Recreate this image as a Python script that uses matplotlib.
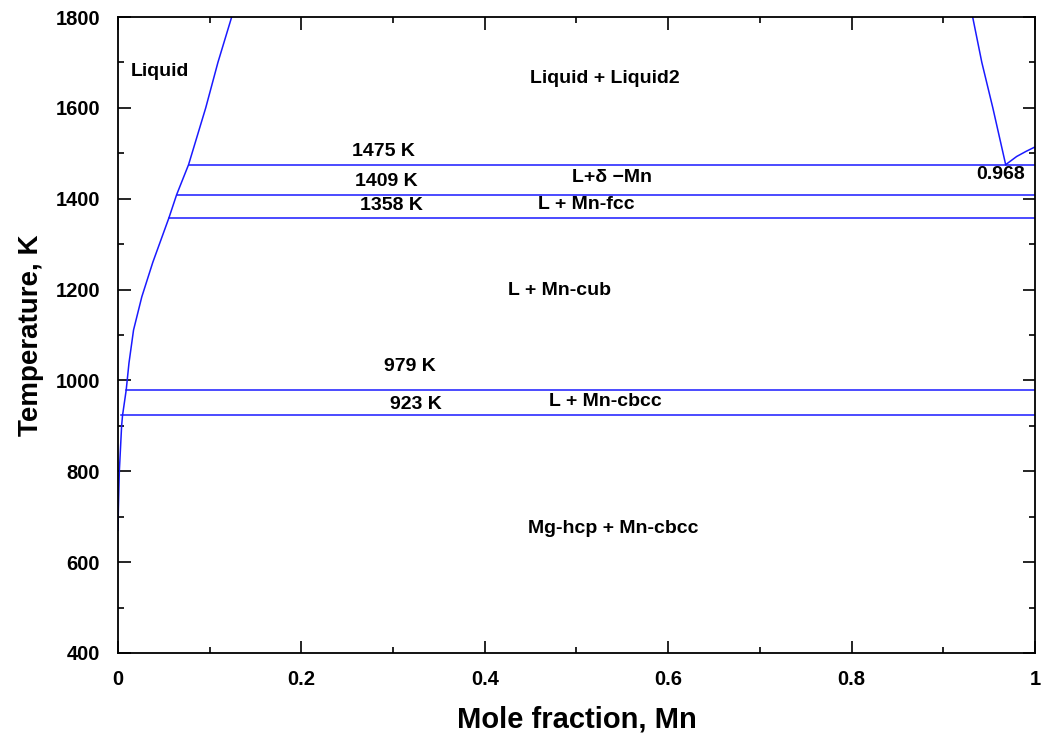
import matplotlib.pyplot as plt
from matplotlib.ticker import MultipleLocator

# liquidus, Mg-rich side (x, T)
liq_x = [0.0, 0.0005, 0.0015, 0.004, 0.005, 0.009, 0.012, 0.017, 0.026, 0.038, 0.0556, 0.064, 0.077, 0.0957, 0.109, 0.124]
liq_T = [670, 720, 800, 900, 923, 979, 1038, 1111, 1184, 1260, 1358, 1409, 1475, 1600, 1700, 1800]

# miscibility gap edge, Mn-rich side
gap_x = [0.932, 0.942, 0.954, 0.968]
gap_T = [1800, 1700, 1600, 1475]

# liquidus of delta-Mn
dmn_x = [0.968, 0.98, 0.99, 1.0]
dmn_T = [1475, 1493, 1504, 1514]

# invariant lines: temperature, left end
inv_T = [1475, 1409, 1358, 979, 923]
inv_x0 = [0.077, 0.064, 0.0556, 0.009, 0.003]

labels = [
    ("Liquid", 0.046, 1679),
    ("Liquid + Liquid2", 0.531, 1664),
    ("1475 K", 0.29, 1505),
    ("1409 K", 0.293, 1439),
    ("L+\u03b4 \u2212Mn", 0.539, 1446),
    ("1358 K", 0.298, 1384),
    ("L + Mn-fcc", 0.511, 1388),
    ("0.968", 0.962, 1454),
    ("L + Mn-cub", 0.481, 1197),
    ("979 K", 0.318, 1030),
    ("923 K", 0.325, 946),
    ("L + Mn-cbcc", 0.532, 953),
    ("Mg-hcp + Mn-cbcc", 0.540, 675),
]

plt.rcParams['font.family'] = ['Liberation Sans', 'DejaVu Sans']

fig = plt.figure(figsize=(10.42, 7.34), dpi=100)
ax = fig.add_axes([0.1132, 0.1104, 0.8801, 0.8664])

blue = '#1a1aff'
ax.plot(liq_x, liq_T, color=blue, lw=1.1)
ax.plot(gap_x, gap_T, color=blue, lw=1.1)
ax.plot(dmn_x, dmn_T, color=blue, lw=1.1)
for T, x0 in zip(inv_T, inv_x0):
    ax.plot([x0, 1.0], [T, T], color=blue, lw=1.1)

for txt, x, y in labels:
    ax.text(x, y, txt, ha='center', va='center', fontsize=14, fontweight='bold')

ax.set_xlim(0, 1)
ax.set_ylim(400, 1800)
ax.xaxis.set_minor_locator(MultipleLocator(0.1))
ax.yaxis.set_major_locator(MultipleLocator(200))
ax.yaxis.set_minor_locator(MultipleLocator(100))
ax.set_xticks([0, 0.2, 0.4, 0.6, 0.8, 1.0])
ax.set_xticklabels(['0', '0.2', '0.4', '0.6', '0.8', '1'])
ax.tick_params(which='both', direction='in', top=True, right=True, width=1.2)
ax.tick_params(which='major', length=9, labelsize=14.5)
ax.tick_params(axis='x', which='major', pad=12)
ax.tick_params(axis='y', which='major', pad=13)
ax.tick_params(which='minor', length=4.5)
for lab in ax.get_xticklabels() + ax.get_yticklabels():
    lab.set_fontweight('bold')
for s in ax.spines.values():
    s.set_linewidth(1.3)

ax.set_xlabel('Mole fraction, Mn', fontsize=21, fontweight='bold', labelpad=12)
ax.set_ylabel('Temperature, K', fontsize=20, fontweight='bold', labelpad=8)

fig.savefig('out.png', dpi=100)
